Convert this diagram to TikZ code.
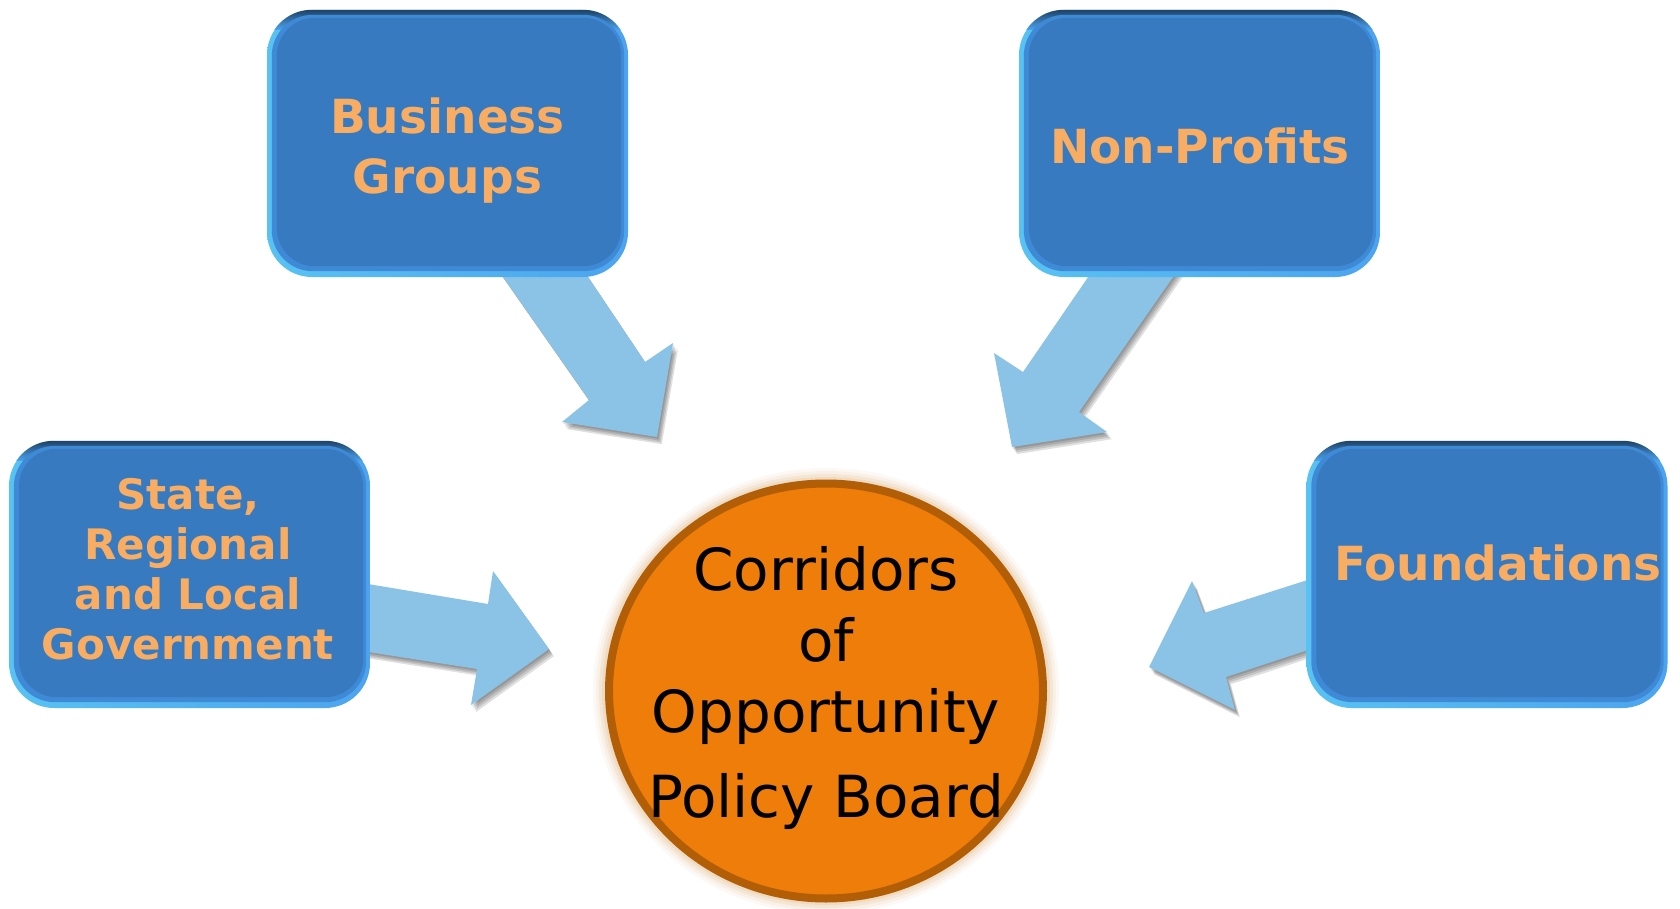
\documentclass[tikz,border=0pt]{standalone}
\usepackage{fontspec}
\setmainfont{DejaVu Sans}
\usetikzlibrary{shapes.geometric,calc}
\definecolor{boxfill}{HTML}{377ABF}
\definecolor{boxmid}{HTML}{3F8AD6}
\definecolor{edgelight}{HTML}{4CA4EE}
\definecolor{edgecyan}{HTML}{58C2F2}
\definecolor{edgedark}{HTML}{1D4268}
\definecolor{lbl}{HTML}{F9AD62}
\definecolor{arrowblue}{HTML}{8AC3E6}
\definecolor{circfill}{HTML}{EE7D0A}
\definecolor{circedge}{HTML}{B25E06}
\definecolor{halo}{HTML}{E8C9A0}
\tikzset{
  bevel/.style={rectangle, rounded corners=45pt, minimum width=361pt, minimum height=267pt, inner sep=0pt, left color=edgecyan, right color=edgelight},
  boxtext/.style={font=\bfseries\fontsize{47}{60}\selectfont, text=lbl, align=center, inner sep=0pt},
  smalltext/.style={boxtext, font=\bfseries\fontsize{42}{50}\selectfont},
  blockarrow/.style={fill=arrowblue},
  arrowshadow/.style={fill=black, opacity=0.12},
}
\newcommand\bevelbox[2]{%
  \node[bevel] (#1) at #2 {};
  \begin{scope}
    \clip[rounded corners=45pt] (#1.north west) rectangle (#1.south east);
    \shade[top color=edgedark, bottom color=edgelight] (#1.north west) rectangle ($(#1.north east)+(0,20)$);
  \end{scope}
  \fill[boxmid, rounded corners=41pt] ($(#1.north west)+(5,5)$) rectangle ($(#1.south east)+(-4,-6)$);
  \fill[boxfill, rounded corners=38pt] ($(#1.north west)+(10,8)$) rectangle ($(#1.south east)+(-7,-11)$);
}
\newcommand\blockarr[1]{%
  \foreach \s in {1,...,4}{\fill[arrowshadow, shift={(\s*1.2,\s*1.8)}] #1;}
  \fill[blockarrow] #1;
}
\begin{document}
\begin{tikzpicture}[x=1pt, y=-1pt]
\fill[white] (0,0) rectangle (1680,909);
\useasboundingbox (0,0) rectangle (1680,909);

% arrows
\blockarr{(496,267) -- (589,400) -- (562,422) -- (657,437) -- (673,343) -- (645,362) -- (580,265) -- cycle}
\blockarr{(1095,267) -- (1023,372) -- (994,353) -- (1012,447) -- (1107,432) -- (1079,412) -- (1180,267) -- cycle}
\blockarr{(362,583) -- (488,604) -- (493,571) -- (549,649) -- (471,705) -- (477,669) -- (362,651) -- cycle}
\blockarr{(1317,577) -- (1204,613) -- (1192,581) -- (1149,667) -- (1235,710) -- (1226,677) -- (1317,647) -- cycle}

% boxes
\bevelbox{business}{(447.5,143.5)}
\bevelbox{nonprofits}{(1199.5,143.5)}
\bevelbox{state}{(189.5,574.5)}
\bevelbox{foundations}{(1487,574.5)}

\node[boxtext] (businesstext) at (447.5,150.5) {Business\\Groups};
\node[boxtext] (nonprofitstext) at (1200,146) {Non-Profits};
\node[smalltext] (statetext) at (188,569) {State,\\Regional\\and Local\\Government};
\node[boxtext] (foundationstext) at (1498,563) {Foundations};

% central board
\foreach \r/\o in {12/0.10,9/0.15,6/0.25,3/0.35}{
  \fill[halo, opacity=\o] (826,691) ellipse [x radius=221+\r, y radius=211+\r];
}
\node[ellipse, minimum width=434pt, minimum height=415pt, fill=circfill, draw=circedge, line width=8pt, inner sep=0pt] (board) at (826,691) {};
\node[font=\fontsize{58}{71}\selectfont, align=center, inner sep=0pt] (boardtext) at (826,688) {Corridors\\of\\Opportunity\\[14pt]Policy Board};
\end{tikzpicture}
\end{document}
